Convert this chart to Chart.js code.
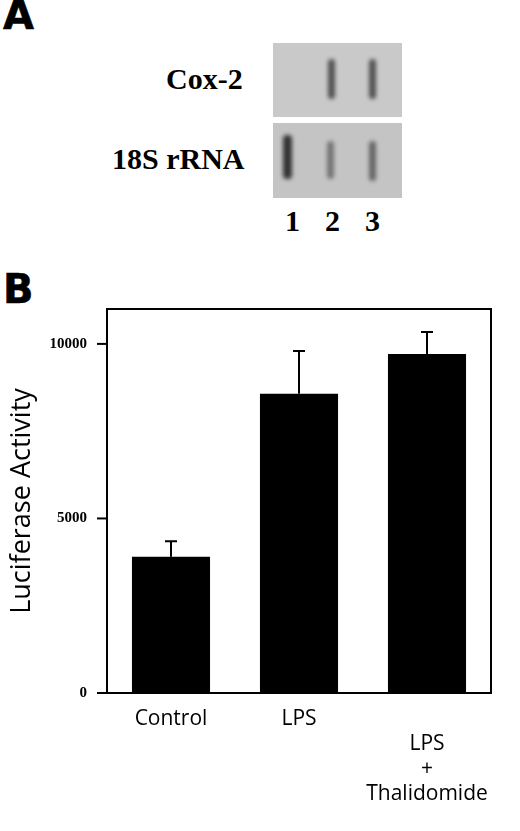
<!DOCTYPE html>
<html>
<head>
<meta charset="utf-8">
<script src="https://cdn.jsdelivr.net/npm/chart.js@4"></script>
<style>
  body { margin: 0; background: #fff; width: 520px; height: 831px; position: relative; overflow: hidden; }
  .panel { position: absolute; font-family: "DejaVu Sans", sans-serif; font-weight: bold; font-size: 40px; -webkit-text-stroke: 0.6px #000; }
  .lbl { position: absolute; font-family: "Liberation Serif", serif; font-weight: bold; font-size: 30px; }
  .gel { position: absolute; background: #c9c9c9; overflow: hidden; }
  .band { position: absolute; width: 7px; border-radius: 4px; background: #333; filter: blur(2px); }
  #wrap { position: absolute; left: 0; top: 288px; width: 520px; height: 543px; }
</style>
</head>
<body>
<div class="panel" style="left:3px;top:-8px">A</div>
<div class="lbl" style="left:166px;top:62px">Cox-2</div>
<div class="lbl" style="left:112px;top:142px">18S rRNA</div>
<div class="gel" style="left:273px;top:43px;width:129px;height:74px">
  <div class="band" style="left:55px;top:16px;height:40px;opacity:0.8"></div>
  <div class="band" style="left:96px;top:16px;height:40px;opacity:0.8"></div>
</div>
<div class="gel" style="left:273px;top:123px;width:129px;height:75px;background:#c4c4c4">
  <div class="band" style="left:10px;top:12px;height:44px;width:9px"></div>
  <div class="band" style="left:54px;top:18px;height:38px;opacity:0.55"></div>
  <div class="band" style="left:96px;top:18px;height:40px;opacity:0.65"></div>
</div>
<div class="lbl" style="left:285px;top:204px;font-size:30px">1</div>
<div class="lbl" style="left:325px;top:204px;font-size:30px">2</div>
<div class="lbl" style="left:365px;top:204px;font-size:30px">3</div>
<div class="panel" style="left:3px;top:266px">B</div>

<div id="wrap"><canvas id="chart"></canvas></div>
<script>
const categories = ['Control', 'LPS', ['', 'LPS', '+', 'Thalidomide']];
const values = [3900, 8570, 9710];
const errors = [450, 1230, 630];
const yTicks = [0, 5000, 10000];

const frameAndErrors = {
  id: 'frameAndErrors',
  afterDatasetsDraw(chart) {
    const { ctx, chartArea: a, scales: { x, y } } = chart;
    ctx.save();
    ctx.strokeStyle = '#000';
    ctx.lineWidth = 2;
    ctx.strokeRect(a.left, a.top, a.right - a.left, a.bottom - a.top);
    yTicks.forEach(v => {
      const py = y.getPixelForValue(v);
      ctx.beginPath();
      ctx.moveTo(a.left - 10, py); ctx.lineTo(a.left, py);
      ctx.stroke();
    });
    values.forEach((v, i) => {
      const cx = x.getPixelForValue(i);
      const y0 = y.getPixelForValue(v);
      const y1 = y.getPixelForValue(v + errors[i]);
      ctx.beginPath();
      ctx.moveTo(cx, y0); ctx.lineTo(cx, y1);
      ctx.moveTo(cx - 6, y1); ctx.lineTo(cx + 6, y1);
      ctx.stroke();
    });
    ctx.restore();
  }
};

new Chart(document.getElementById('chart'), {
  type: 'bar',
  data: {
    labels: categories,
    datasets: [{ data: values, backgroundColor: '#000', categoryPercentage: 1, barPercentage: 0.61 }]
  },
  options: {
    responsive: true,
    maintainAspectRatio: false,
    animation: false,
    layout: { padding: { top: 8, right: 29, left: 0, bottom: 0 } },
    plugins: { legend: { display: false }, tooltip: { enabled: false } },
    scales: {
      x: {
        grid: { display: false },
        border: { display: false },
        ticks: { color: '#000', font: { family: 'Open Sans', size: 21, lineHeight: 1.18 }, padding: 6, maxRotation: 0 },
        afterFit(s) { s.height = 138; }
      },
      y: {
        min: 0, max: 11000,
        afterBuildTicks(s) { s.ticks = yTicks.map(v => ({ value: v })); },
        grid: { display: false },
        border: { display: false },
        ticks: { color: '#000', font: { family: 'Liberation Serif', weight: 'bold', size: 15 }, padding: 12, callback: v => String(v) },
        title: { display: true, text: 'Luciferase Activity', color: '#000', font: { family: 'Open Sans', size: 27 }, padding: { top: 6, bottom: 0 } },
        afterFit(s) { s.width = 107; }
      }
    }
  },
  plugins: [frameAndErrors]
});
</script>
</body>
</html>
